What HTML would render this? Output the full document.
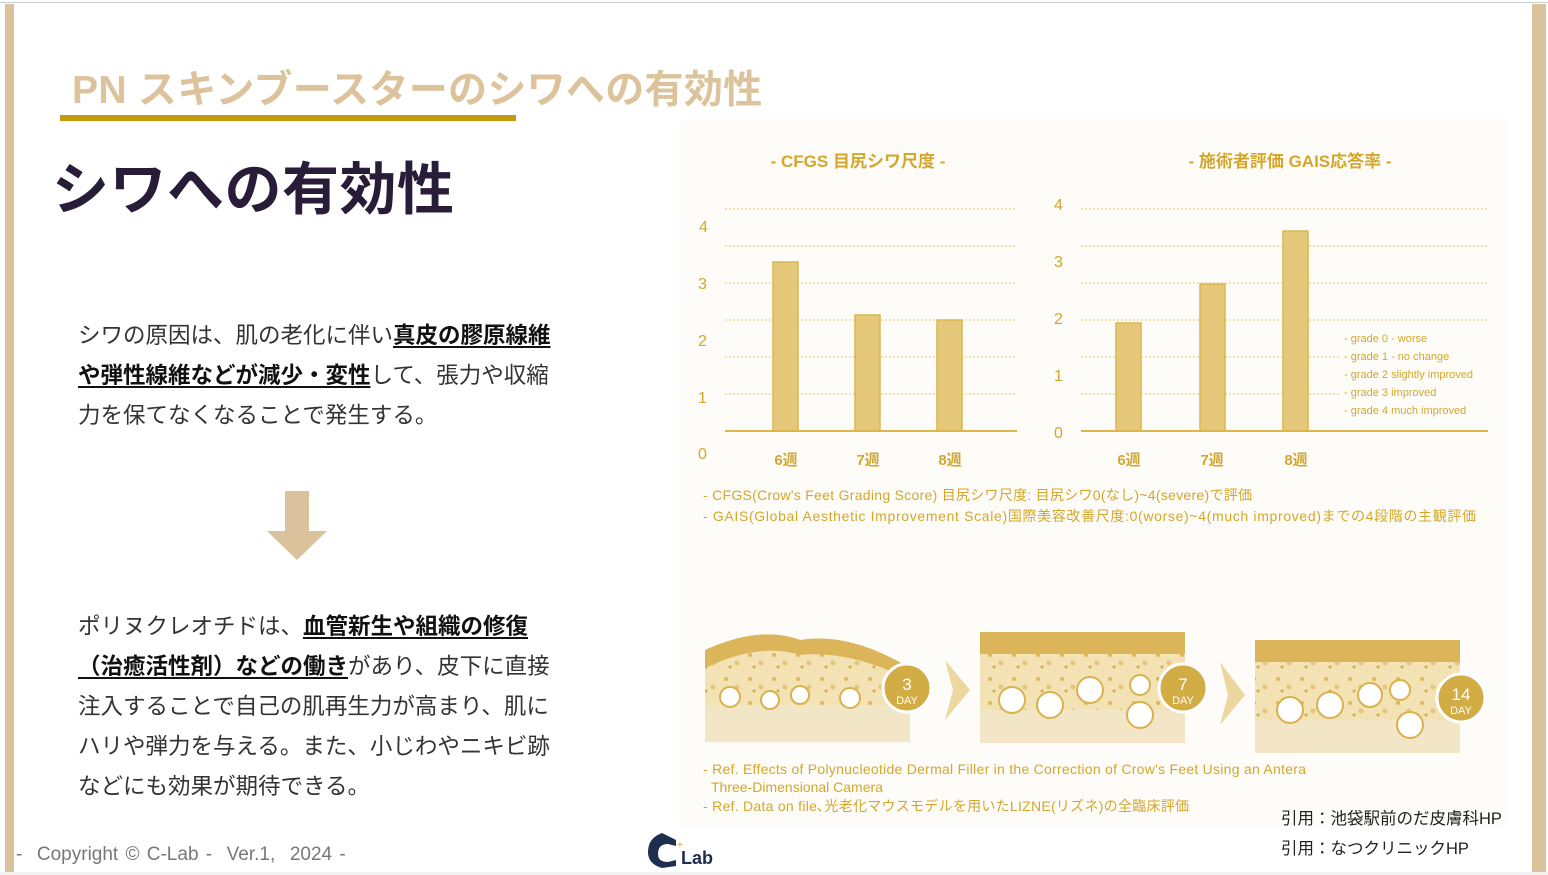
<!DOCTYPE html>
<html><head><meta charset="utf-8"><style>
*{margin:0;padding:0;box-sizing:border-box}
body{width:1548px;height:875px;background:#fff;position:relative;overflow:hidden;font-family:"Liberation Sans","Noto Sans CJK JP",sans-serif}
.a{position:absolute;white-space:nowrap}
.p{font-size:22.5px;line-height:40px;color:#333;font-family:"Liberation Sans","Noto Sans CJK JP",sans-serif}
.p b{color:#111;text-decoration:underline;text-underline-offset:3px}
</style></head><body>
<div class="a" style="left:0;top:2px;width:1548px;height:1px;background:#c8ccd2"></div>
<div class="a" style="left:5px;top:4px;width:9px;height:868px;background:#d9c29c"></div>
<div class="a" style="left:1532px;top:4px;width:14px;height:868px;background:#d9c29c"></div>
<div class="a" style="left:0;top:872px;width:1548px;height:3px;background:#f2f2f2"></div>

<div class="a" style="left:72px;top:66px;font-size:39px;letter-spacing:0.3px;font-weight:bold;color:#dcc39c;line-height:50px">PN スキンブースターのシワへの有効性</div>
<div class="a" style="left:60px;top:115px;width:456px;height:6px;background:#c39a0c"></div>
<div class="a" style="left:52px;top:155px;font-size:57px;letter-spacing:0.5px;font-weight:bold;color:#281c38;line-height:70px">シワへの有効性</div>

<div class="a p" style="left:78px;top:316px">シワの原因は、肌の老化に伴い<b>真皮の膠原線維</b><br><b>や弾性線維などが減少・変性</b>して、張力や収縮<br>力を保てなくなることで発生する。</div>
<svg class="a" style="left:266px;top:491px" width="62" height="70"><polygon points="19,0 43,0 43,40 61,40 31,69 1,40 19,40" fill="#d9c29c"/></svg>
<div class="a p" style="left:78px;top:607px">ポリヌクレオチドは、<b>血管新生や組織の修復</b><br><b>（治癒活性剤）などの働き</b>があり、皮下に直接<br>注入することで自己の肌再生力が高まり、肌に<br>ハリや弾力を与える。また、小じわやニキビ跡<br>などにも効果が期待できる。</div>

<div class="a" style="left:680px;top:120px;width:826px;height:706px;background:#fdfcf8"></div>
<svg class="a" style="left:0;top:0" width="1548" height="875">
<g stroke="#e2c46e" stroke-dasharray="2,2" stroke-width="1">
<line x1="725" y1="209" x2="1017" y2="209"/><line x1="725" y1="246" x2="1017" y2="246"/><line x1="725" y1="283" x2="1017" y2="283"/><line x1="725" y1="320" x2="1017" y2="320"/><line x1="725" y1="357" x2="1017" y2="357"/><line x1="725" y1="394" x2="1017" y2="394"/>
<line x1="1081" y1="209" x2="1488" y2="209"/><line x1="1081" y1="246" x2="1488" y2="246"/><line x1="1081" y1="283" x2="1488" y2="283"/><line x1="1081" y1="320" x2="1488" y2="320"/><line x1="1081" y1="357" x2="1340" y2="357"/><line x1="1081" y1="394" x2="1340" y2="394"/>
</g>
<g fill="#e6c87a" stroke="#dcb650" stroke-width="1.5">
<rect x="773" y="262" width="25" height="169"/><rect x="855" y="315" width="25" height="116"/><rect x="937" y="320" width="25" height="111"/>
<rect x="1116" y="323" width="25" height="108"/><rect x="1200" y="284" width="25" height="147"/><rect x="1283" y="231" width="25" height="200"/>
</g>
<line x1="725" y1="431" x2="1017" y2="431" stroke="#ddb64a" stroke-width="2"/>
<line x1="1081" y1="431" x2="1488" y2="431" stroke="#ddb64a" stroke-width="2"/>
<g font-family="Liberation Sans,Noto Sans CJK JP,sans-serif" fill="#d4a72c" font-size="16">
<text x="699" y="232">4</text><text x="698" y="289">3</text><text x="698" y="346">2</text><text x="698" y="403">1</text><text x="698" y="459">0</text>
<text x="1054" y="210">4</text><text x="1054" y="267">3</text><text x="1054" y="324">2</text><text x="1054" y="381">1</text><text x="1054" y="438">0</text>
</g>
<g font-family="Liberation Sans,Noto Sans CJK JP,sans-serif" fill="#d4a72c" font-size="15" font-weight="bold" text-anchor="middle">
<text x="786" y="465">6週</text><text x="868" y="465">7週</text><text x="950" y="465">8週</text>
<text x="1129" y="465">6週</text><text x="1212" y="465">7週</text><text x="1296" y="465">8週</text>
<text x="858" y="167" font-size="17">- CFGS 目尻シワ尺度 -</text>
<text x="1290" y="167" font-size="17">- 施術者評価 GAIS応答率 -</text>
</g>
<g font-family="Liberation Sans,Noto Sans CJK JP,sans-serif" fill="#d4a72c" font-size="11">
<text x="1344" y="342">- grade 0 - worse</text><text x="1344" y="360">- grade 1 - no change</text><text x="1344" y="378">- grade 2  slightly improved</text><text x="1344" y="396">- grade 3 improved</text><text x="1344" y="414">- grade 4 much improved</text>
</g>
<g font-family="Liberation Sans,Noto Sans CJK JP,sans-serif" fill="#d4a72c" font-size="14">
<text x="703" y="500" textLength="549">- CFGS(Crow's Feet Grading Score) 目尻シワ尺度: 目尻シワ0(なし)~4(severe)で評価</text>
<text x="703" y="521" textLength="773">- GAIS(Global Aesthetic Improvement Scale)国際美容改善尺度:0(worse)~4(much improved)までの4段階の主観評価</text>
<text x="703" y="774" textLength="603">- Ref. Effects of Polynucleotide Dermal Filler in the Correction of Crow's Feet Using an Antera</text>
<text x="711" y="792">Three-Dimensional Camera</text>
<text x="703" y="811" textLength="486">- Ref. Data on file､光老化マウスモデルを用いたLIZNE(リズネ)の全臨床評価</text>
</g>
<defs><pattern id="sk" width="24" height="24" patternUnits="userSpaceOnUse"><rect width="24" height="24" fill="#f2e2b4"/><circle cx="6" cy="7" r="2" fill="#dcb75c"/><circle cx="17" cy="15" r="2.5" fill="#e5c77c"/><circle cx="10" cy="19" r="1.5" fill="#d6ad4a"/></pattern></defs>
<g>
<path d="M705,650 Q760,625 800,640 Q850,632 910,668 L910,742 L705,742Z" fill="url(#sk)"/>
<path d="M705,650 Q760,625 800,640 Q850,632 910,668 L910,680 Q850,650 800,655 Q760,642 705,668Z" fill="#dcb55a"/>
<rect x="705" y="705" width="205" height="37" fill="#f3e6c6"/>
<rect x="980" y="632" width="205" height="111" fill="url(#sk)"/>
<rect x="980" y="632" width="205" height="22" fill="#dcb55a"/>
<rect x="980" y="710" width="205" height="33" fill="#f3e6c6"/>
<rect x="1255" y="640" width="205" height="113" fill="url(#sk)"/>
<rect x="1255" y="640" width="205" height="22" fill="#dcb55a"/>
<rect x="1255" y="720" width="205" height="33" fill="#f3e6c6"/>
<g fill="#fff" stroke="#d9b24e" stroke-width="2">
<circle cx="730" cy="697" r="10"/><circle cx="770" cy="700" r="9"/><circle cx="800" cy="695" r="9"/><circle cx="850" cy="698" r="10"/>
<circle cx="1012" cy="700" r="13"/><circle cx="1050" cy="705" r="13"/><circle cx="1090" cy="690" r="13"/><circle cx="1140" cy="715" r="13"/><circle cx="1140" cy="685" r="10"/>
<circle cx="1290" cy="710" r="13"/><circle cx="1330" cy="705" r="13"/><circle cx="1370" cy="695" r="12"/><circle cx="1410" cy="725" r="13"/><circle cx="1400" cy="690" r="10"/>
</g>
<polygon points="945,660 970,690 945,720 953,690" fill="#ecd7a0"/>
<polygon points="1220,662 1245,695 1220,725 1228,695" fill="#ecd7a0"/>
<g fill="#d2ac44" stroke="#fff" stroke-width="3"><circle cx="907" cy="688" r="24"/><circle cx="1183" cy="688" r="24"/><circle cx="1461" cy="698" r="24"/></g>
<g fill="#fff" font-family="Liberation Sans,sans-serif" text-anchor="middle"><text x="907" y="690" font-size="17">3</text><text x="907" y="704" font-size="11">DAY</text><text x="1183" y="690" font-size="17">7</text><text x="1183" y="704" font-size="11">DAY</text><text x="1461" y="700" font-size="17">14</text><text x="1461" y="714" font-size="11">DAY</text></g>
</g>
</svg>

<div class="a" style="left:1281px;top:808px;font-size:16.5px;line-height:22px;color:#222">引用：池袋駅前のだ皮膚科HP</div>
<div class="a" style="left:1281px;top:838px;font-size:16.5px;line-height:22px;color:#222">引用：なつクリニックHP</div>
<div class="a" style="left:16px;top:843px;font-size:19px;color:#777;line-height:24px;word-spacing:2px">-&nbsp; Copyright © C-Lab -&nbsp; Ver.1,&nbsp; 2024 -</div>
<svg class="a" style="left:644px;top:830px" width="80" height="40"><path d="M18,3 L32,10 L32,16 L24,14 Q14,14 14,24 Q14,32 24,32 L32,30 L32,36 L18,38 Q4,34 4,22 Q4,8 18,3Z" fill="#1d2e4e"/><text x="37" y="34" font-family="Liberation Sans,sans-serif" font-weight="bold" font-size="18" fill="#1d2e4e">Lab</text><text x="33" y="18" font-size="10" fill="#d4a72c">+</text></svg>
</body></html>
